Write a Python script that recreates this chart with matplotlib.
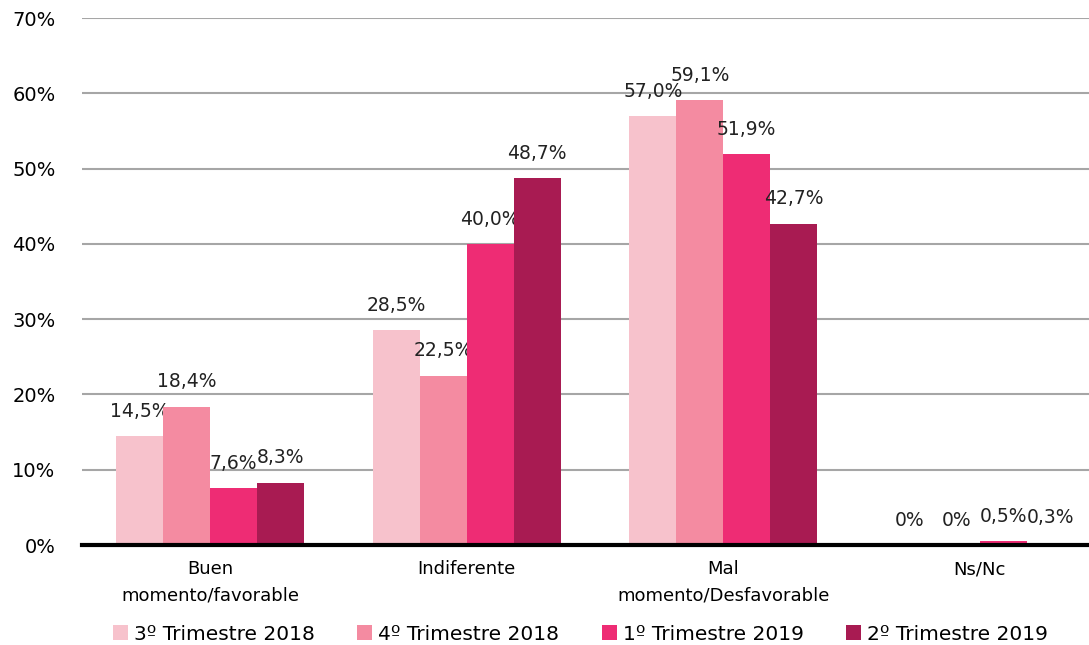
import matplotlib.pyplot as plt
import numpy as np

# === Data ===
categories = ["Buen\nmomento/favorable", "Indiferente", "Mal\nmomento/Desfavorable", "Ns/Nc"]
series_names = ["3º Trimestre 2018", "4º Trimestre 2018", "1º Trimestre 2019", "2º Trimestre 2019"]
t3_2018 = [14.5, 28.5, 57.0, 0.0]
t4_2018 = [18.4, 22.5, 59.1, 0.0]
t1_2019 = [7.6, 40.0, 51.9, 0.5]
t2_2019 = [8.3, 48.7, 42.7, 0.3]
yticks = [0, 10, 20, 30, 40, 50, 60, 70]

series = [t3_2018, t4_2018, t1_2019, t2_2019]
colors = ["#F7C2CC", "#F48BA1", "#EE2C74", "#A81B52"]

plt.rcParams["font.family"] = ["DejaVu Sans"]

fig = plt.figure(figsize=(10.89, 6.45), dpi=100)
ax = fig.add_axes([0.0753, 0.155, 0.9247, 0.817])

x = np.arange(len(categories))
width = 0.183
for i, (vals, name, c) in enumerate(zip(series, series_names, colors)):
    pos = x + (i - 1.5) * width
    ax.bar(pos, vals, width=width, color=c, label=name, zorder=3)
    for px, v in zip(pos, vals):
        txt = "0%" if v == 0 else f"{v:.1f}%".replace(".", ",")
        ax.annotate(txt, (px, v), xytext=(0, 11), textcoords="offset points",
                    ha="center", va="bottom", fontsize=13.5, color="#222222")

ax.set_xlim(-0.5, 3.426)
ax.set_ylim(0, 70)
ax.set_yticks(yticks)
ax.set_yticklabels([f"{t}%" for t in yticks], fontsize=14)
ax.set_xticks(x)
ax.set_xticklabels(categories, fontsize=13, linespacing=1.6)
ax.tick_params(axis="x", length=0, pad=11)
ax.tick_params(axis="y", length=0, pad=19)
ax.grid(axis="y", color="#A6A6A6", linewidth=1.5, zorder=0)
for s in ["top", "right", "left"]:
    ax.spines[s].set_visible(False)
ax.spines["bottom"].set_linewidth(3)
ax.spines["bottom"].set_color("black")
ax.spines["bottom"].set_zorder(4)

fig.legend(loc="center", bbox_to_anchor=(0.533, 0.017), ncol=4, frameon=False,
           handlelength=0.75, handleheight=0.75, handletextpad=0.3,
           columnspacing=2.1, prop={"size": 14.5})

plt.savefig("out.png", dpi=100)
